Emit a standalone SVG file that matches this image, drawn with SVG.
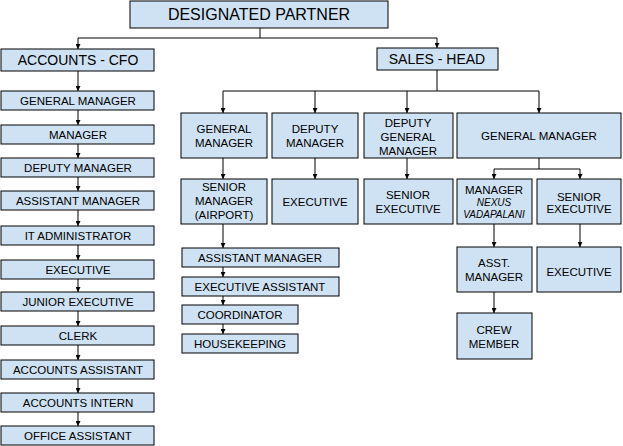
<svg xmlns="http://www.w3.org/2000/svg" width="623" height="446" viewBox="0 0 623 446">
<defs>
<style>
.b{fill:#cfe2f3;stroke:#000;stroke-width:1}
.t{font-family:"Liberation Sans",Arial,sans-serif;font-size:11.5px;fill:#000;text-anchor:middle}
.l{font-size:14px}
.x{font-size:16px}
.i{font-size:10px;font-style:italic}
.c{fill:none;stroke:#000;stroke-width:1}
</style>
<marker id="a" markerUnits="userSpaceOnUse" markerWidth="5" markerHeight="5" viewBox="0 0 10 10" refX="10" refY="5" orient="auto">
<path d="M0,0 L10,5 L0,10 z" fill="#000"/>
</marker>
</defs>
<rect width="623" height="446" fill="#fff"/>
<g id="connectors" class="c" marker-end="url(#a)">
<path d="M260,28 V38 H78 V49"/>
<path d="M260,38 H437 V48"/>
<path d="M78,71 V91"/>
<path d="M78,110 V125"/>
<path d="M78,144 V158"/>
<path d="M78,177 V191"/>
<path d="M78,210 V226"/>
<path d="M78,245 V260"/>
<path d="M78,279 V292"/>
<path d="M78,311 V326"/>
<path d="M78,345 V360"/>
<path d="M78,379 V393"/>
<path d="M78,412 V426"/>
<path d="M437,70 V91 H223 V113"/>
<path d="M437,91 H539 V113"/>
<path d="M315,91 V113"/>
<path d="M407,91 V113"/>
<path d="M223,158 V179"/>
<path d="M315,158 V179"/>
<path d="M407,158 V179"/>
<path d="M223,224 V248"/>
<path d="M223,267 V277"/>
<path d="M223,296 V305"/>
<path d="M223,324 V334"/>
<path d="M539,158 V169 H494 V179"/>
<path d="M539,169 H580 V179"/>
<path d="M494,224 V247"/>
<path d="M580,224 V247"/>
<path d="M494,292 V313"/>
</g>
<g id="dp"><rect class="b" x="130" y="1" width="258" height="27"/><text class="t x" x="259" y="20">DESIGNATED PARTNER</text></g>
<g id="cfo"><rect class="b" x="1" y="49" width="153" height="22"/><text class="t l" x="78" y="65">ACCOUNTS - CFO</text></g>
<g id="sales"><rect class="b" x="377" y="48" width="121" height="22"/><text class="t l" x="437" y="64">SALES - HEAD</text></g>
<g id="l-gm"><rect class="b" x="1" y="91" width="153" height="19"/><text class="t" x="78" y="104.5">GENERAL MANAGER</text></g>
<g id="l-mgr"><rect class="b" x="1" y="125" width="153" height="19"/><text class="t" x="78" y="138.5">MANAGER</text></g>
<g id="l-dm"><rect class="b" x="1" y="158" width="153" height="19"/><text class="t" x="78" y="171.5">DEPUTY MANAGER</text></g>
<g id="l-am"><rect class="b" x="1" y="191" width="153" height="19"/><text class="t" x="78" y="204.5">ASSISTANT MANAGER</text></g>
<g id="l-it"><rect class="b" x="1" y="226" width="153" height="19"/><text class="t" x="78" y="239.5">IT ADMINISTRATOR</text></g>
<g id="l-ex"><rect class="b" x="1" y="260" width="153" height="19"/><text class="t" x="78" y="273.5">EXECUTIVE</text></g>
<g id="l-je"><rect class="b" x="1" y="292" width="153" height="19"/><text class="t" x="78" y="305.5">JUNIOR EXECUTIVE</text></g>
<g id="l-cl"><rect class="b" x="1" y="326" width="153" height="19"/><text class="t" x="78" y="339.5">CLERK</text></g>
<g id="l-aa"><rect class="b" x="1" y="360" width="153" height="19"/><text class="t" x="78" y="373.5">ACCOUNTS ASSISTANT</text></g>
<g id="l-ai"><rect class="b" x="1" y="393" width="153" height="19"/><text class="t" x="78" y="406.5">ACCOUNTS INTERN</text></g>
<g id="l-oa"><rect class="b" x="1" y="426" width="153" height="19"/><text class="t" x="78" y="439.5">OFFICE ASSISTANT</text></g>
<g id="m-gm"><rect class="b" x="181" y="113" width="86" height="45"/><text class="t" x="224" y="133">GENERAL</text><text class="t" x="224" y="147">MANAGER</text></g>
<g id="m-dm"><rect class="b" x="272" y="113" width="86" height="45"/><text class="t" x="315" y="133">DEPUTY</text><text class="t" x="315" y="147">MANAGER</text></g>
<g id="m-dgm"><rect class="b" x="364" y="113" width="89" height="45"/><text class="t" x="408" y="127">DEPUTY</text><text class="t" x="408" y="141">GENERAL</text><text class="t" x="408" y="155">MANAGER</text></g>
<g id="r-gm"><rect class="b" x="457" y="113" width="164" height="45"/><text class="t" x="539" y="139.5">GENERAL MANAGER</text></g>
<g id="m-sm"><rect class="b" x="181" y="179" width="86" height="45"/><text class="t" x="224" y="191">SENIOR</text><text class="t" x="224" y="205">MANAGER</text><text class="t" x="224" y="219">(AIRPORT)</text></g>
<g id="m-ex"><rect class="b" x="272" y="179" width="86" height="45"/><text class="t" x="315" y="206">EXECUTIVE</text></g>
<g id="m-se"><rect class="b" x="364" y="179" width="89" height="45"/><text class="t" x="408" y="199">SENIOR</text><text class="t" x="408" y="212.5">EXECUTIVE</text></g>
<g id="m-am"><rect class="b" x="182" y="248" width="157" height="19"/><text class="t" x="260" y="261.5">ASSISTANT MANAGER</text></g>
<g id="m-ea"><rect class="b" x="182" y="277" width="157" height="19"/><text class="t" x="260" y="290.5">EXECUTIVE ASSISTANT</text></g>
<g id="m-co"><rect class="b" x="182" y="305" width="116" height="19"/><text class="t" x="240" y="318.5">COORDINATOR</text></g>
<g id="m-hk"><rect class="b" x="182" y="334" width="116" height="19"/><text class="t" x="240" y="347.5">HOUSEKEEPING</text></g>
<g id="r-mgr"><rect class="b" x="457" y="179" width="75" height="45"/><text class="t" x="494" y="194">MANAGER</text><text class="t i" x="494" y="205.5">NEXUS</text><text class="t i" x="494" y="217.5">VADAPALANI</text></g>
<g id="r-se"><rect class="b" x="537" y="179" width="84" height="45"/><text class="t" x="579" y="200.5">SENIOR</text><text class="t" x="579" y="212.5">EXECUTIVE</text></g>
<g id="r-am"><rect class="b" x="457" y="247" width="75" height="45"/><text class="t" x="494" y="267">ASST.</text><text class="t" x="494" y="281">MANAGER</text></g>
<g id="r-ex"><rect class="b" x="537" y="247" width="84" height="45"/><text class="t" x="579" y="276">EXECUTIVE</text></g>
<g id="r-cm"><rect class="b" x="457" y="313" width="75" height="46"/><text class="t" x="494" y="334">CREW</text><text class="t" x="494" y="348">MEMBER</text></g>
</svg>
